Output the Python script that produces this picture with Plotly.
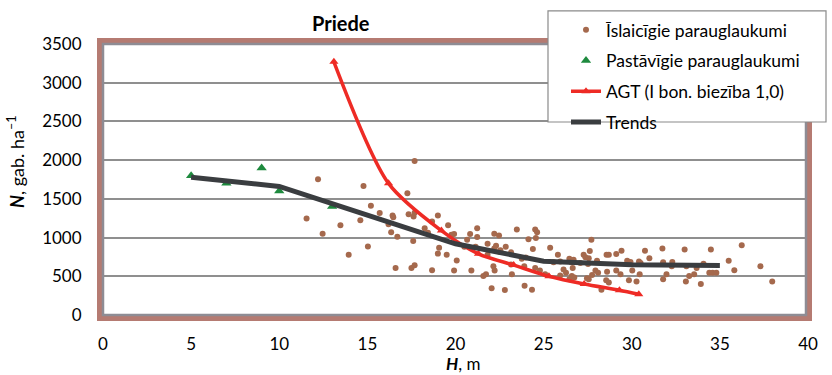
import plotly.graph_objects as go

# ---- data ----
short_H = [11.55, 12.2, 12.46, 13.47, 13.94, 14.78, 15.2, 15.7, 14.6, 15.03,
           16.43, 16.47, 16.2, 16.35, 16.7, 16.6, 17.27, 17.68, 17.34, 17.62,
           17.68, 17.6, 17.5, 17.68, 18.25, 18.44, 18.67, 19.0, 19.07, 19.0,
           19.5, 19.58, 18.67, 19.92, 19.77, 20.07, 19.92, 20.66, 20.83, 21.23,
           21.23, 20.5, 21.14, 20.9, 21.82, 22.2, 22.47, 22.2, 22.3, 22.55,
           22.85, 23.15, 21.82, 22.15, 22.22, 21.58, 21.73, 22.05, 22.8, 23.2,
           23.15, 23.48, 23.76, 23.99, 23.9, 24.14, 24.39, 24.52, 24.56, 24.63,
           24.52, 24.79, 23.92, 24.34, 25.37, 25.09, 25.81, 25.94, 25.56, 25.94,
           26.46, 26.57, 26.7, 26.65, 26.6, 26.74, 26.46, 26.13, 26.27, 27.08,
           27.27, 27.37, 27.56, 27.52, 27.62, 27.71, 28.03, 27.94, 28.09, 27.75,
           27.56, 28.28, 28.55, 28.7, 28.57, 28.7, 29.12, 29.42, 28.6, 29.12,
           29.36, 29.74, 29.93, 30.03, 29.84, 30.27, 30.45, 30.41, 30.5, 30.75,
           31.0, 31.74, 31.78, 31.97, 31.78, 32.3, 32.27, 33.0, 33.1, 33.07,
           33.26, 33.54, 33.68, 33.92, 34.07, 34.49, 34.4, 34.59, 34.8, 35.5,
           35.82, 36.24, 37.3, 37.97, 22.5, 27.46]
short_N = [1246, 1754, 1049, 1158, 777, 1666, 1410, 1318, 1225, 885,
           1284, 1263, 1171, 1070, 1011, 608, 1574, 1989, 1301, 1271,
           1322, 957, 608, 642, 1120, 1061, 1209, 1284, 869, 793,
           777, 1158, 579, 1045, 1036, 705, 575, 973, 1045, 1120,
           1007, 881, 881, 575, 919, 1049, 1028, 860, 894, 835,
           881, 810, 777, 630, 575, 504, 525, 344, 323, 525,
           651, 1104, 726, 743, 630, 978, 852, 1104, 995, 1070,
           608, 575, 378, 327, 869, 525, 777, 510, 680, 692,
           726, 680, 714, 608, 504, 483, 462, 588, 545, 671,
           777, 747, 734, 659, 827, 973, 701, 575, 545, 516,
           462, 327, 449, 419, 777, 777, 789, 831, 558, 575,
           525, 701, 684, 575, 449, 432, 525, 692, 671, 831,
           734, 860, 680, 525, 462, 684, 630, 847, 630, 432,
           504, 525, 608, 399, 663, 847, 545, 545, 545, 701,
           579, 902, 630, 432, 818, 474]

perm_H = [5, 7, 9, 10, 13]
perm_N = [1800, 1700, 1900, 1600, 1400]

agt_H = [13.1, 16.2, 19.2, 21.3, 23.3, 25.3, 27.3, 29.3, 30.4]
agt_N = [3270, 1700, 1090, 790, 645, 500, 400, 320, 268]

trend_H = [5, 10, 15, 20, 25, 30, 35]
trend_N = [1780, 1660, 1290, 920, 695, 650, 640]

x_ticks = [0, 5, 10, 15, 20, 25, 30, 35, 40]
y_ticks = [0, 500, 1000, 1500, 2000, 2500, 3000, 3500]

FONT = "Lato"
W, H = 832, 375
L, R, T, B = 103, 24, 37, 60
PW, PH = W - L - R, H - T - B


def xp(px):
    return (px - L) / PW


def yp(py):
    return (H - B - py) / PH


fig = go.Figure()
fig.add_trace(go.Scatter(
    x=short_H, y=short_N, mode="markers", name="Īslaicīgie parauglaukumi",
    marker=dict(symbol="circle", size=6, color="#a5694d"),
    legendgroup="a"))
fig.add_trace(go.Scatter(
    x=perm_H, y=perm_N, mode="markers", name="Pastāvīgie parauglaukumi",
    marker=dict(symbol="triangle-up", size=9, color="#1e8a3e"),
    legendgroup="b"))
fig.add_trace(go.Scatter(
    x=agt_H, y=agt_N, mode="lines+markers", name="AGT (I bon. biezība 1,0)",
    line=dict(color="#ee2b25", width=3.5, shape="spline", smoothing=0.8),
    marker=dict(symbol="triangle-up", size=8, color="#ee2b25"),
    legendgroup="c"))
fig.add_trace(go.Scatter(
    x=trend_H, y=trend_N, mode="lines", name="Trends",
    line=dict(color="#3a3d40", width=5),
    legendgroup="d"))

shapes = [
    # frame (brown outer, gray inner)
    dict(type="rect", xref="paper", yref="paper",
         x0=xp(99.5), x1=xp(809.5), y0=yp(318.5), y1=yp(33.5),
         line=dict(color="#b57b72", width=5), fillcolor="rgba(0,0,0,0)", layer="above"),
    dict(type="rect", xref="paper", yref="paper",
         x0=xp(103), x1=xp(806), y0=yp(315), y1=yp(37),
         line=dict(color="#8e8c94", width=2.5), fillcolor="rgba(0,0,0,0)", layer="above"),
    # legend box
    dict(type="rect", xref="paper", yref="paper",
         x0=xp(548), x1=xp(826), y0=yp(117), y1=yp(3),
         line=dict(color="#8a8a8a", width=1.2), fillcolor="white", layer="above"),
]

annotations = [
    dict(text="<b>Priede</b>", xref="paper", yref="paper", x=xp(341), y=yp(15),
         xanchor="center", yanchor="middle", showarrow=False,
         font=dict(family=FONT, size=20, color="black")),
    dict(text="<b><i>N</i></b>, gab. ha<sup>–1</sup>", xref="paper", yref="paper",
         x=xp(16), y=yp(158), xanchor="center", yanchor="middle", textangle=-90,
         showarrow=False, font=dict(family=FONT, size=18, color="black")),
    dict(text="<b><i>H</i></b>, m", xref="paper", yref="paper",
         x=xp(463), y=yp(365), xanchor="center", yanchor="middle",
         showarrow=False, font=dict(family=FONT, size=17, color="black")),
]

fig.update_layout(
    width=W, height=H, autosize=False,
    margin=dict(l=L, r=R, t=T, b=B, pad=0),
    paper_bgcolor="white", plot_bgcolor="rgba(0,0,0,0)",
    font=dict(family=FONT, size=17, color="black"),
    shapes=shapes, annotations=annotations,
    showlegend=True,
    legend=dict(x=xp(566), y=yp(4), xanchor="left", yanchor="top",
                bgcolor="rgba(0,0,0,0)", borderwidth=0,
                font=dict(family=FONT, size=17.5, color="black"),
                traceorder="grouped", tracegroupgap=5, itemwidth=30),
    xaxis=dict(range=[0, 40], tickvals=x_ticks, ticktext=[str(v) for v in x_ticks],
               showgrid=False, zeroline=False, showline=False,
               ticks="outside", ticklen=14, tickcolor="rgba(0,0,0,0)",
               tickfont=dict(family=FONT, size=17), fixedrange=True),
    yaxis=dict(range=[0, 3500], tickvals=y_ticks, ticktext=[str(v) for v in y_ticks],
               showgrid=True, gridcolor="#8f8f8f", gridwidth=2,
               zeroline=False, showline=False,
               ticks="outside", ticklen=17, tickcolor="rgba(0,0,0,0)",
               tickfont=dict(family=FONT, size=17), fixedrange=True),
)

fig.write_html("out.html")
